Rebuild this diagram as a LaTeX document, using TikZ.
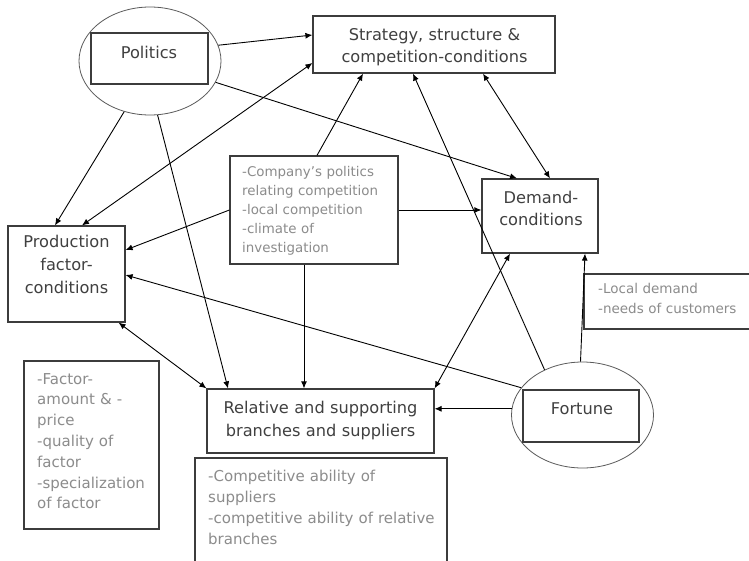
\documentclass[tikz,border=0pt]{standalone}
\usepackage{fontspec}
\setmainfont{DejaVu Sans}
\usetikzlibrary{shapes.geometric,arrows.meta,calc}
\definecolor{labelgray}{HTML}{404040}
\definecolor{notegray}{HTML}{8C8C8C}
\definecolor{framegray}{HTML}{3C3C3C}
\definecolor{ovalgray}{HTML}{5A5A5A}
\begin{document}
\begin{tikzpicture}[x=1pt,y=-1pt,
  frame/.style={draw=framegray, line width=1.2pt, rectangle, inner sep=0pt},
  oval/.style={draw=ovalgray, line width=0.8pt, ellipse, inner sep=0pt},
  headline/.style={text=labelgray, inner sep=0pt, align=center, anchor=base},
  note/.style={text=notegray, inner sep=0pt, align=left, anchor=base west},
  tip/.style={},
  link/.style={draw=black, line width=0.9pt, -{Latex[length=7pt,width=6pt]}},
  both/.style={draw=black, line width=0.9pt, {Latex[length=7pt,width=6pt]}-{Latex[length=7pt,width=6pt]}},
]
\useasboundingbox (0,0) rectangle (749,560);
\clip (0,0) rectangle (749,560);
\fill[white] (0,0) rectangle (749,560);

% Politics
\node[oval, minimum width=142, minimum height=108] (pol) at (150,61) {};
\node[frame, minimum width=117, minimum height=51] (polbox) at (149.5,58.5) {};
\node[headline, text width=110, font=\fontsize{16.2}{22.5}\selectfont] (poltext) at (149,58) {Politics};

% Strategy, structure & competition-conditions
\node[frame, minimum width=242, minimum height=57] (strat) at (434,44.5) {};
\node[headline, text width=236, font=\fontsize{16.2}{22}\selectfont] (strattext) at (434.5,40.7)
  {Strategy, structure \&\\competition-conditions};

% Company's politics
\node[frame, minimum width=168, minimum height=108] (comp) at (314,210) {};
\node[note, text width=150, font=\fontsize{13.4}{19}\selectfont] (comptext) at (242,176)
  {-Company’s politics\\relating competition\\-local competition\\-climate of\\investigation};

% Demand-conditions
\node[frame, minimum width=116, minimum height=74] (dem) at (540,216) {};
\node[headline, text width=110, font=\fontsize{16.2}{21.7}\selectfont] (demtext) at (541,203.3)
  {Demand-\\conditions};

% Local demand
\node[frame, minimum width=200, minimum height=55] (loc) at (684,301.5) {};
\node[note, text width=160, font=\fontsize{13.5}{20}\selectfont] (loctext) at (598,293.3)
  {-Local demand\\-needs of customers};

% Production factor-conditions
\node[frame, minimum width=117, minimum height=96] (prod) at (66.5,274) {};
\node[headline, text width=112, font=\fontsize{16.2}{23}\selectfont] (prodtext) at (66.5,247.3)
  {Production\\factor-\\conditions};

% Factor notes
\node[frame, minimum width=135, minimum height=168] (fac) at (91.5,445) {};
\node[note, text width=120, font=\fontsize{15}{20.8}\selectfont] (factext) at (37,384)
  {-Factor-\\amount \& -\\price\\-quality of\\factor\\-specialization\\of factor};

% Relative and supporting branches and suppliers
\node[frame, minimum width=227, minimum height=64] (rel) at (320.5,421) {};
\node[headline, text width=222, font=\fontsize{16.2}{22.7}\selectfont] (reltext) at (320.5,413.3)
  {Relative and supporting\\branches and suppliers};

% Competitive ability notes
\node[frame, minimum width=252, minimum height=142] (compab) at (321,529) {};
\node[note, text width=240, font=\fontsize{15}{21}\selectfont] (compabtext) at (208,481)
  {-Competitive ability of\\suppliers\\-competitive ability of relative\\branches};

% Fortune
\node[oval, minimum width=142, minimum height=106] (fort) at (582.5,415) {};
\node[frame, minimum width=116, minimum height=52] (fortbox) at (581,416) {};
\node[headline, text width=110, font=\fontsize{16.2}{22}\selectfont] (forttext) at (582,414) {Fortune};

% Connectors
\draw[link] (pol.13) -- ([yshift=9.5pt]strat.west);
\draw[both] ([xshift=15.5pt]prod.north) -- ([yshift=-18.5pt]strat.west);
\draw[link] (pol.243) -- ([xshift=-11.5pt]prod.north);
\draw[link] (pol.278) -- ([xshift=-92.5pt]rel.north);
\draw[link] (pol.-18) -- ([xshift=-23pt]dem.north);
\draw[both] ([xshift=49pt]strat.south) -- ([xshift=10pt]dem.north);
\draw[link] ([xshift=3pt]comp.north) -- ([xshift=-71pt]strat.south);
\draw[link] (comp.west) -- ([yshift=24pt]prod.east);
\draw[link] (comp.east) -- (comp.east -| dem.west);
\draw[link] ([xshift=-10pt]comp.south) -- ([xshift=-10pt]comp.south |- rel.north);
\draw[link] (fort.130) -- ([xshift=-21pt]strat.south);
\draw[link] (fort.156) -- ([yshift=-1pt]prod.east);
\draw[link] (fort.175) -- (fort.175 -| rel.east);
\draw[link] ([xshift=-2pt]fort.north) -- ([xshift=45pt]dem.south);
\draw[both] ([xshift=-30pt]dem.south) -- (rel.north east);
\draw[both] ([xshift=-7pt]prod.south east) -- (rel.north west);
\end{tikzpicture}
\end{document}
